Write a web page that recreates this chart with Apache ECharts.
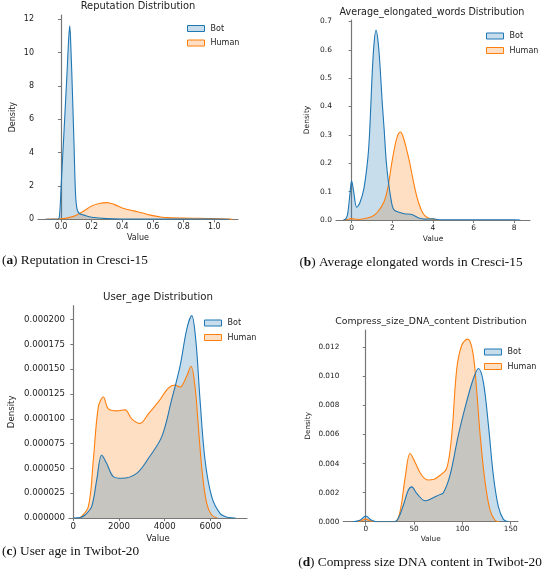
<!DOCTYPE html>
<html>
<head>
<meta charset="utf-8">
<script src="https://cdn.jsdelivr.net/npm/echarts@6/dist/echarts.min.js"></script>
<style>
  html, body { margin: 0; padding: 0; background: #fff; }
  #chart { width: 550px; height: 574px; }
</style>
</head>
<body>
<div id="chart"></div>
<script>
// (a) Reputation in Cresci-15, [value, density]
const repBot = [[-0.1, 0], [-0.02, 0], [-0.01, 0.2], [0.0, 1.8], [0.01, 3.6], [0.02, 5.3], [0.03, 7.1],
  [0.04, 8.9], [0.05, 10.8], [0.057, 11.6], [0.065, 10.2], [0.075, 7.5], [0.085, 4.5], [0.095, 1.5],
  [0.105, 0.6], [0.12, 0.35], [0.15, 0.25], [0.2, 0.12], [0.3, 0.04], [0.5, 0.01], [0.8, 0.01],
  [1.0, 0.02], [1.1, 0]];
const repHuman = [[-0.1, 0], [-0.05, 0.01], [0, 0.03], [0.05, 0.1], [0.1, 0.25], [0.15, 0.5], [0.2, 0.8],
  [0.25, 0.95], [0.3, 1.0], [0.35, 0.88], [0.4, 0.68], [0.45, 0.56], [0.5, 0.45], [0.55, 0.33],
  [0.6, 0.22], [0.65, 0.14], [0.7, 0.1], [0.8, 0.07], [0.9, 0.06], [1.0, 0.04], [1.05, 0.03],
  [1.1, 0.01], [1.12, 0]];
const repXTicks = [0, 0.2, 0.4, 0.6, 0.8, 1.0];
const repYTicks = [0, 2, 4, 6, 8, 10, 12];

// (b) Average elongated words in Cresci-15
const elongBot = [[-0.4, 0], [-0.3, 0.003], [-0.2, 0.02], [-0.1, 0.08], [0, 0.138], [0.1, 0.1],
  [0.25, 0.045], [0.4, 0.06], [0.6, 0.11], [0.8, 0.22], [0.9, 0.33], [1.0, 0.5], [1.1, 0.62],
  [1.2, 0.67], [1.3, 0.63], [1.4, 0.54], [1.5, 0.42], [1.6, 0.32], [1.7, 0.21], [1.8, 0.14],
  [1.9, 0.09], [2.0, 0.05], [2.1, 0.035], [2.3, 0.028], [2.6, 0.022], [2.9, 0.02], [3.1, 0.015],
  [3.3, 0.007], [3.6, 0.003], [4.0, 0.004], [4.3, 0.001], [5, 0.001], [6, 0.001], [7, 0.001],
  [8, 0.001], [8.3, 0]];
const elongHuman = [[-0.4, 0], [-0.2, 0.002], [0, 0.005], [0.3, 0.002], [0.7, 0.006], [1.0, 0.012],
  [1.3, 0.03], [1.6, 0.065], [1.8, 0.12], [1.95, 0.19], [2.1, 0.25], [2.25, 0.295], [2.4, 0.31],
  [2.55, 0.29], [2.7, 0.25], [2.85, 0.205], [3.0, 0.15], [3.15, 0.1], [3.3, 0.06], [3.5, 0.025],
  [3.7, 0.01], [4.0, 0.003], [4.3, 0]];
const elongXTicks = [0, 2, 4, 6, 8];
const elongYTicks = [0, 0.1, 0.2, 0.3, 0.4, 0.5, 0.6, 0.7];

// (c) User age in Twibot-20
const ageBot = [[0, 0], [300, 0.0000005], [510, 0.000003], [800, 0.0000114], [1020, 0.000038],
  [1240, 0.0000635], [1460, 0.000055], [1750, 0.0000417], [2115, 0.00004], [2770, 0.000045],
  [3280, 0.00006], [3870, 0.000082], [4300, 0.000119], [4670, 0.000153], [4960, 0.00019],
  [5180, 0.000204], [5360, 0.000179], [5545, 0.000119], [5763, 0.0000585], [6055, 0.0000215],
  [6420, 0.0000047], [6785, 0.0000005], [7100, 0]];
const ageHuman = [[290, 0], [656, 0.0000114], [875, 0.0000585], [1094, 0.000112], [1313, 0.000122],
  [1531, 0.00011], [1897, 0.000108], [2263, 0.000109], [2554, 0.0001], [2919, 0.0000954],
  [3284, 0.000105], [3720, 0.000117], [4158, 0.000131], [4450, 0.000134], [4669, 0.000132],
  [4960, 0.000143], [5150, 0.000153], [5326, 0.000132], [5471, 0.000092], [5645, 0.000045],
  [5836, 0.0000148], [6055, 0.000003], [6300, 0]];
const ageXTicks = [0, 2000, 4000, 6000];
const ageYTicks = [0, 0.000025, 0.00005, 0.000075, 0.0001, 0.000125, 0.00015, 0.000175, 0.0002];

// (d) Compress size DNA content in Twibot-20
const dnaBot = [[-13, 0], [-6, 0.0001], [0, 0.00039], [6, 0.0001], [12, 0], [30, 0], [33.8, 0.00023],
  [39, 0.00115], [44.1, 0.00218], [47.6, 0.0024], [52.8, 0.00195], [61.4, 0.00144], [68.3, 0.0016],
  [75.2, 0.00183], [80.3, 0.002], [87.2, 0.0032], [95.9, 0.006], [104.5, 0.0083], [111.4, 0.00986],
  [116.6, 0.01055], [121.7, 0.0096], [126.9, 0.00665], [132, 0.0032], [137.2, 0.00103],
  [142.4, 0.00016], [147.6, 0]];
const dnaHuman = [[-10, 0], [-5, 0.00005], [0, 0.00018], [5, 0.00005], [10, 0], [30.3, 0],
  [35.5, 0.0007], [40.7, 0.003], [45.9, 0.0047], [51, 0.0041], [57.9, 0.0032], [64.8, 0.00287],
  [70, 0.0029], [76.9, 0.0032], [83.8, 0.00367], [89, 0.006], [94.1, 0.0105], [99.3, 0.01215],
  [105.2, 0.01257], [110.7, 0.0117], [114.8, 0.009], [118.3, 0.006], [123.4, 0.00275],
  [128.6, 0.0008], [133.7, 0.0001], [138, 0]];
const dnaXTicks = [0, 50, 100, 150];
const dnaYTicks = [0, 0.002, 0.004, 0.006, 0.008, 0.01, 0.012];

const BLUE = '#1f77b4';
const ORANGE = '#ff7f0e';
const FONT = 'DejaVu Sans';
const SERIF = 'Liberation Serif';

const panels = [
  { title: 'Reputation Distribution', tx: 138, ty: 7, tf: 9.9, fs: 8,
    grid: { left: 38, top: 15, width: 200, height: 204.3 },
    x: [-0.15, 1.155], y: [0, 12.25], xt: repXTicks, yt: repYTicks, xd: 1, yd: 0,
    yGap: 21, xGap: 15, legend: { left: 182, top: 19.5 }, bot: repBot, human: repHuman },
  { title: 'Average_elongated_words Distribution', tx: 432, ty: 13, tf: 9.6, fs: 7.5,
    grid: { left: 336, top: 20, width: 194, height: 200 },
    x: [-0.77, 8.78], y: [0, 0.705], xt: elongXTicks, yt: elongYTicks, xd: 0, yd: 1,
    yGap: 25, xGap: 15, legend: { left: 481, top: 27 }, bot: elongBot, human: elongHuman },
  { title: 'User_age Distribution', tx: 158, ty: 298, tf: 10.2, fs: 8.6,
    grid: { left: 69, top: 305.7, width: 178, height: 212.3 },
    x: [-190, 7600], y: [0, 0.000214], xt: ageXTicks, yt: ageYTicks, xd: 0, yd: 6,
    yGap: 53, xGap: 16, legend: { left: 199, top: 314 }, bot: ageBot, human: ageHuman },
  { title: 'Compress_size_DNA_content Distribution', tx: 431, ty: 323, tf: 9.3, fs: 7.3,
    grid: { left: 343.3, top: 330, width: 174.7, height: 191.7 },
    x: [-23.2, 157.5], y: [0, 0.0132], xt: dnaXTicks, yt: dnaYTicks, xd: 0, yd: 3,
    yGap: 32, xGap: 14, legend: { left: 479, top: 343 }, bot: dnaBot, human: dnaHuman }
];

const captions = [
  { x: 2, y: 261, align: 'left', key: 'a', text: ' Reputation in Cresci-15' },
  { x: 411, y: 263, align: 'center', key: 'b', text: ' Average elongated words in Cresci-15' },
  { x: 2, y: 552, align: 'left', key: 'c', text: ' User age in Twibot-20' },
  { x: 420, y: 563, align: 'center', key: 'd', text: ' Compress size DNA content in Twibot-20' }
];

const axisLineStyle = { show: true, lineStyle: { color: '#777', width: 1.2 } };

function areaSeries(name, color, data, i) {
  return {
    name: name, type: 'line', xAxisIndex: i, yAxisIndex: i,
    data: data, smooth: 0.35, showSymbol: false, symbol: 'none',
    lineStyle: { color: color, width: 1.1 },
    itemStyle: { color: color },
    areaStyle: { color: color, opacity: 0.25 },
    emphasis: { disabled: true }
  };
}

const chart = echarts.init(document.getElementById('chart'), null, { renderer: 'canvas' });

const option = {
  backgroundColor: '#fff',
  animation: false,
  title: panels.map(p => ({
    text: p.title, left: p.tx, top: p.ty - p.tf / 2 - 1, textAlign: 'center', padding: 0,
    textStyle: { fontFamily: FONT, fontSize: p.tf, fontWeight: 'normal', color: '#222' }
  })),
  legend: panels.map(p => ({
    orient: 'vertical', left: p.legend.left, top: p.legend.top,
    itemWidth: 17, itemHeight: 6, itemGap: 6.5, icon: 'rect',
    textStyle: { fontFamily: FONT, fontSize: 8, color: '#222', padding: [0, 0, 0, 1] },
    selectedMode: false,
    data: [
      { name: 'Bot', itemStyle: { color: 'rgba(31,119,180,0.25)', borderColor: BLUE, borderWidth: 1 } },
      { name: 'Human', itemStyle: { color: 'rgba(255,127,14,0.25)', borderColor: ORANGE, borderWidth: 1 } }
    ]
  })),
  grid: panels.map(p => Object.assign({ containLabel: false }, p.grid)),
  xAxis: panels.map((p, i) => ({
    type: 'value', gridIndex: i, min: p.x[0], max: p.x[1],
    name: 'Value', nameLocation: 'middle', nameGap: p.xGap,
    nameTextStyle: { fontFamily: FONT, fontSize: p.fs, color: '#222' },
    axisLine: axisLineStyle,
    axisTick: { show: true, length: 3, lineStyle: { color: '#777' }, customValues: p.xt },
    axisLabel: { margin: 4, customValues: p.xt, formatter: v => v.toFixed(p.xd),
      color: '#222', fontFamily: FONT, fontSize: p.fs },
    splitLine: { show: false }
  })),
  yAxis: panels.map((p, i) => ({
    type: 'value', gridIndex: i, min: p.y[0], max: p.y[1],
    name: 'Density', nameLocation: 'middle', nameGap: p.yGap, nameRotate: 90,
    nameTextStyle: { fontFamily: FONT, fontSize: p.fs, color: '#222' },
    axisLine: axisLineStyle,
    axisTick: { show: true, length: 3, lineStyle: { color: '#777' }, customValues: p.yt },
    axisLabel: { margin: 4, customValues: p.yt, formatter: v => v.toFixed(p.yd),
      color: '#222', fontFamily: FONT, fontSize: p.fs },
    splitLine: { show: false }
  })),
  series: panels.flatMap((p, i) => [
    areaSeries('Human', ORANGE, p.human, i),
    areaSeries('Bot', BLUE, p.bot, i)
  ]),
  graphic: captions.map(c => ({
    type: 'text', x: c.x, y: c.y,
    style: {
      text: '({k|' + c.key + '})' + c.text,
      align: c.align, verticalAlign: 'middle',
      fontFamily: SERIF, fontSize: 13.3, fill: '#111',
      rich: { k: { fontFamily: SERIF, fontSize: 13.3, fontWeight: 'bold', fill: '#111' } }
    }
  }))
};

chart.setOption(option);
</script>
</body>
</html>
